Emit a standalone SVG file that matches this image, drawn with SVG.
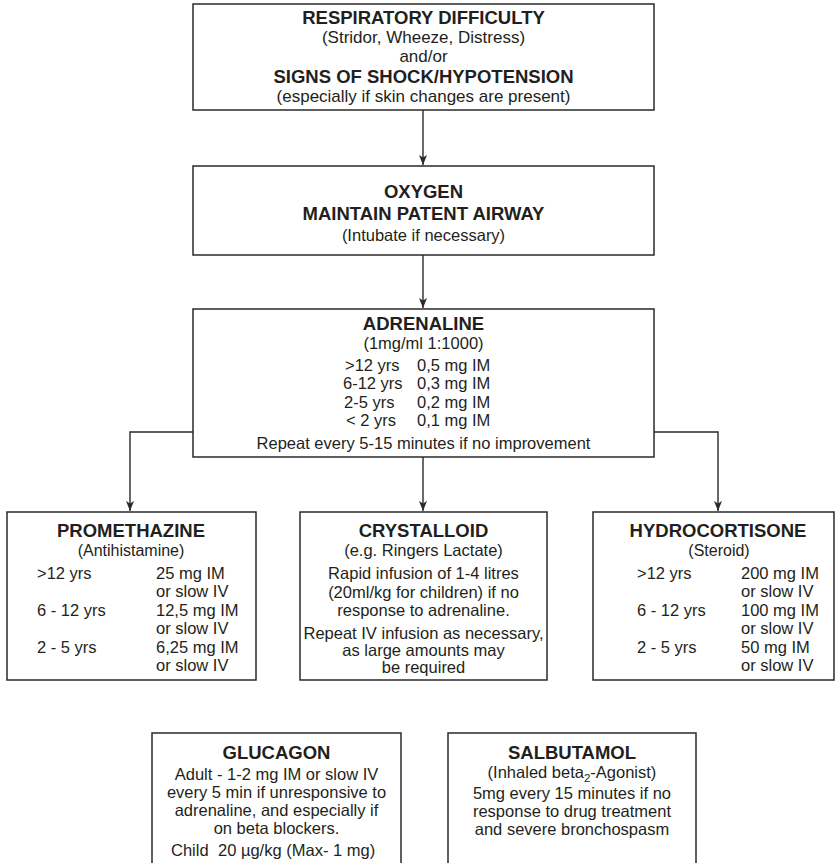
<svg xmlns="http://www.w3.org/2000/svg" width="836" height="863" viewBox="0 0 836 863">
<defs>
<style>
.box{fill:#fff;stroke:#2a2a2a;stroke-width:1.5}
.t{font-family:"Liberation Sans",Arial,sans-serif;font-weight:bold;font-size:18.5px;fill:#231f20;text-anchor:middle}
.b{font-family:"Liberation Sans",Arial,sans-serif;font-size:16.5px;fill:#231f20;text-anchor:middle}
.s{font-family:"Liberation Sans",Arial,sans-serif;font-size:17px;fill:#231f20;text-anchor:middle}
.l{font-family:"Liberation Sans",Arial,sans-serif;font-size:16.5px;fill:#231f20;text-anchor:start}
.c{fill:none;stroke:#2a2a2a;stroke-width:1.4}
</style>
<marker id="arr" viewBox="0 0 10 8" refX="10" refY="4" markerWidth="10" markerHeight="8" orient="auto" markerUnits="userSpaceOnUse">
<path d="M0,0 L10,4 L0,8 L2.5,4 z" fill="#2a2a2a"/>
</marker>
</defs>
<rect width="836" height="863" fill="#fff"/>

<g id="connectors">
<path class="c" d="M423,110 V165" marker-end="url(#arr)"/>
<path class="c" d="M423,255 V308" marker-end="url(#arr)"/>
<path class="c" d="M193,432 H130 V511" marker-end="url(#arr)"/>
<path class="c" d="M423,457 V511" marker-end="url(#arr)"/>
<path class="c" d="M654,432 H718 V511" marker-end="url(#arr)"/>
</g>

<g id="respiratory">
<rect class="box" x="193" y="4" width="461" height="106"/>
<text class="t" x="423.5" y="24">RESPIRATORY DIFFICULTY</text>
<text class="s" x="423.5" y="43">(Stridor, Wheeze, Distress)</text>
<text class="s" x="423.5" y="62">and/or</text>
<text class="t" x="423.5" y="83">SIGNS OF SHOCK/HYPOTENSION</text>
<text class="s" x="423.5" y="102">(especially if skin changes are present)</text>
</g>

<g id="oxygen">
<rect class="box" x="193" y="166" width="461" height="89"/>
<text class="t" x="423.5" y="198">OXYGEN</text>
<text class="t" x="423.5" y="220">MAINTAIN PATENT AIRWAY</text>
<text class="b" x="423.5" y="241">(Intubate if necessary)</text>
</g>

<g id="adrenaline">
<rect class="box" x="193" y="309" width="461" height="148"/>
<text class="t" x="423.5" y="330">ADRENALINE</text>
<text class="b" x="423.5" y="349">(1mg/ml 1:1000)</text>
<text class="l" x="345" y="371">&gt;12 yrs</text><text class="l" x="417" y="371">0,5 mg IM</text>
<text class="l" x="343" y="389">6-12 yrs</text><text class="l" x="417" y="389">0,3 mg IM</text>
<text class="l" x="344" y="408">2-5 yrs</text><text class="l" x="417" y="408">0,2 mg IM</text>
<text class="l" x="346" y="426">&lt; 2 yrs</text><text class="l" x="417" y="426">0,1 mg IM</text>
<text class="b" x="423.5" y="449">Repeat every 5-15 minutes if no improvement</text>
</g>

<g id="promethazine">
<rect class="box" x="7" y="512" width="249" height="168"/>
<text class="t" x="131" y="537">PROMETHAZINE</text>
<text class="b" x="131" y="556" style="font-size:16px">(Antihistamine)</text>
<text class="l" x="37" y="579">&gt;12 yrs</text><text class="l" x="156" y="579">25 mg IM</text>
<text class="l" x="156" y="597">or slow IV</text>
<text class="l" x="37" y="616">6 - 12 yrs</text><text class="l" x="156" y="616">12,5 mg IM</text>
<text class="l" x="156" y="634">or slow IV</text>
<text class="l" x="37" y="653">2 - 5 yrs</text><text class="l" x="156" y="653">6,25 mg IM</text>
<text class="l" x="156" y="671">or slow IV</text>
</g>

<g id="crystalloid">
<rect class="box" x="300" y="512" width="247" height="168"/>
<text class="t" x="423.5" y="537">CRYSTALLOID</text>
<text class="b" x="423.5" y="556">(e.g. Ringers Lactate)</text>
<text class="b" x="423.5" y="579">Rapid infusion of 1-4 litres</text>
<text class="b" x="423.5" y="598">(20ml/kg for children) if no</text>
<text class="b" x="423.5" y="616">response to adrenaline.</text>
<text class="b" x="423.5" y="639">Repeat IV infusion as necessary,</text>
<text class="b" x="423.5" y="656">as large amounts may</text>
<text class="b" x="423.5" y="673">be required</text>
</g>

<g id="hydrocortisone">
<rect class="box" x="593" y="512" width="241" height="168"/>
<text class="t" x="718" y="537">HYDROCORTISONE</text>
<text class="b" x="719" y="556" style="font-size:16px">(Steroid)</text>
<text class="l" x="637" y="579">&gt;12 yrs</text><text class="l" x="741" y="579">200 mg IM</text>
<text class="l" x="741" y="597">or slow IV</text>
<text class="l" x="637" y="616">6 - 12 yrs</text><text class="l" x="741" y="616">100 mg IM</text>
<text class="l" x="741" y="634">or slow IV</text>
<text class="l" x="637" y="653">2 - 5 yrs</text><text class="l" x="741" y="653">50 mg IM</text>
<text class="l" x="741" y="671">or slow IV</text>
</g>

<g id="glucagon">
<rect class="box" x="152" y="733" width="249" height="150"/>
<text class="t" x="276.5" y="759">GLUCAGON</text>
<text class="b" x="276.5" y="780">Adult - 1-2 mg IM or slow IV</text>
<text class="b" x="276.5" y="798">every 5 min if unresponsive to</text>
<text class="b" x="276.5" y="816">adrenaline, and especially if</text>
<text class="b" x="276.5" y="834">on beta blockers.</text>
<text class="l" x="171" y="856">Child</text><text class="l" x="218" y="856">20 µg/kg (Max- 1 mg)</text>
</g>

<g id="salbutamol">
<rect class="box" x="448" y="733" width="248" height="150"/>
<text class="t" x="572" y="759">SALBUTAMOL</text>
<text class="b" x="572" y="778">(Inhaled beta<tspan font-size="11.5" dy="4">2</tspan><tspan dy="-4">-Agonist)</tspan></text>
<text class="b" x="572" y="799">5mg every 15 minutes if no</text>
<text class="b" x="572" y="817">response to drug treatment</text>
<text class="b" x="572" y="835">and severe bronchospasm</text>
</g>
</svg>
